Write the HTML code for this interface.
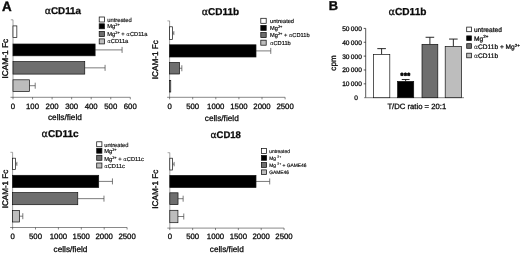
<!DOCTYPE html>
<html><head><meta charset="utf-8"><title>Figure</title>
<style>
html,body{margin:0;padding:0;background:#fff;}
svg{display:block;filter:blur(0.35px);}
.al{font-family:"DejaVu Sans","Liberation Sans",sans-serif;}
text{font-family:"Liberation Sans", Arial, sans-serif;fill:#0a0a0a;stroke:#0a0a0a;stroke-width:0.28;text-rendering:geometricPrecision;}
text.lg{stroke-width:0.16;}
text.lg .al{stroke-width:0;font-size:0.93em;}
</style></head>
<body>
<svg width="520" height="254" viewBox="0 0 520 254">
<rect x="0" y="0" width="520" height="254" fill="#ffffff"/>
<text x="2.0" y="10.7" font-size="13.4" text-anchor="start" font-weight="bold" style="stroke-width:0.4">A</text>
<line x1="13.00" y1="19.80" x2="13.00" y2="97.30" stroke="#555" stroke-width="0.55"/>
<line x1="10.80" y1="19.80" x2="13.00" y2="19.80" stroke="#555" stroke-width="0.5"/>
<line x1="10.50" y1="97.30" x2="130.30" y2="97.30" stroke="#484848" stroke-width="0.65"/>
<line x1="13.00" y1="97.30" x2="13.00" y2="99.30" stroke="#333" stroke-width="0.6"/>
<text x="13.00" y="109.3" font-size="7.8" text-anchor="middle" font-weight="normal" >0</text>
<line x1="32.55" y1="97.30" x2="32.55" y2="99.30" stroke="#333" stroke-width="0.6"/>
<text x="32.55" y="109.3" font-size="7.8" text-anchor="middle" font-weight="normal" >100</text>
<line x1="52.10" y1="97.30" x2="52.10" y2="99.30" stroke="#333" stroke-width="0.6"/>
<text x="52.10" y="109.3" font-size="7.8" text-anchor="middle" font-weight="normal" >200</text>
<line x1="71.65" y1="97.30" x2="71.65" y2="99.30" stroke="#333" stroke-width="0.6"/>
<text x="71.65" y="109.3" font-size="7.8" text-anchor="middle" font-weight="normal" >300</text>
<line x1="91.20" y1="97.30" x2="91.20" y2="99.30" stroke="#333" stroke-width="0.6"/>
<text x="91.20" y="109.3" font-size="7.8" text-anchor="middle" font-weight="normal" >400</text>
<line x1="110.75" y1="97.30" x2="110.75" y2="99.30" stroke="#333" stroke-width="0.6"/>
<text x="110.75" y="109.3" font-size="7.8" text-anchor="middle" font-weight="normal" >500</text>
<line x1="130.30" y1="97.30" x2="130.30" y2="99.30" stroke="#333" stroke-width="0.6"/>
<text x="130.30" y="109.3" font-size="7.8" text-anchor="middle" font-weight="normal" >600</text>
<rect x="13.00" y="25.90" width="3.85" height="11.60" fill="#ffffff" stroke="#111" stroke-width="0.7"/>
<line x1="95.11" y1="49.90" x2="122.09" y2="49.90" stroke="#444" stroke-width="0.7"/>
<line x1="122.09" y1="46.90" x2="122.09" y2="52.90" stroke="#444" stroke-width="0.7"/>
<rect x="13.00" y="44.00" width="82.11" height="11.80" fill="#000000" stroke="#111" stroke-width="0.7"/>
<line x1="84.75" y1="67.85" x2="105.08" y2="67.85" stroke="#444" stroke-width="0.7"/>
<line x1="105.08" y1="64.85" x2="105.08" y2="70.85" stroke="#444" stroke-width="0.7"/>
<rect x="13.00" y="61.60" width="71.75" height="12.50" fill="#6e6e6e" stroke="#111" stroke-width="0.7"/>
<line x1="29.42" y1="85.70" x2="35.21" y2="85.70" stroke="#444" stroke-width="0.7"/>
<line x1="35.21" y1="82.70" x2="35.21" y2="88.70" stroke="#444" stroke-width="0.7"/>
<rect x="13.00" y="79.80" width="16.42" height="11.80" fill="#bdbdbd" stroke="#111" stroke-width="0.7"/>
<text x="62.9" y="13.9" font-size="9.8" text-anchor="middle" font-weight="bold"><tspan class="al" font-weight="normal" font-size="9.51">&#945;</tspan>CD11a</text>
<text x="64.9" y="120.4" font-size="8.25" text-anchor="middle" font-weight="normal" >cells/field</text>
<text transform="translate(7.7,58.7) rotate(-90)" font-size="8.3" text-anchor="middle" style="stroke-width:0.36">ICAM-1 Fc</text>
<rect x="99.20" y="17.00" width="5.20" height="5.00" fill="#ffffff" stroke="#111" stroke-width="0.75"/>
<text x="107.2" y="21.59" font-size="5.8" text-anchor="start" font-weight="normal" class="lg">untreated</text>
<rect x="99.20" y="23.80" width="5.20" height="5.00" fill="#000000" stroke="#111" stroke-width="0.75"/>
<text x="107.2" y="28.39" font-size="5.8" text-anchor="start" font-weight="normal" class="lg">Mg<tspan font-size="3.94" dy="-1.91">2+</tspan><tspan dy="1.91">&#8203;</tspan></text>
<rect x="99.20" y="31.50" width="5.20" height="5.00" fill="#6e6e6e" stroke="#111" stroke-width="0.75"/>
<text x="107.2" y="36.09" font-size="5.8" text-anchor="start" font-weight="normal" class="lg">Mg<tspan font-size="3.94" dy="-1.91">2+</tspan><tspan dy="1.91">&#8203;</tspan> + <tspan class="al">&#945;</tspan>CD11a</text>
<rect x="99.20" y="38.90" width="5.20" height="5.00" fill="#bdbdbd" stroke="#111" stroke-width="0.75"/>
<text x="107.2" y="43.49" font-size="5.8" text-anchor="start" font-weight="normal" class="lg"><tspan class="al">&#945;</tspan>CD11a</text>
<line x1="169.60" y1="20.90" x2="169.60" y2="97.30" stroke="#555" stroke-width="0.55"/>
<line x1="167.40" y1="20.90" x2="169.60" y2="20.90" stroke="#555" stroke-width="0.5"/>
<line x1="167.10" y1="97.30" x2="285.10" y2="97.30" stroke="#484848" stroke-width="0.65"/>
<line x1="169.60" y1="97.30" x2="169.60" y2="99.30" stroke="#333" stroke-width="0.6"/>
<text x="169.60" y="109.3" font-size="7.8" text-anchor="middle" font-weight="normal" >0</text>
<line x1="192.70" y1="97.30" x2="192.70" y2="99.30" stroke="#333" stroke-width="0.6"/>
<text x="192.70" y="109.3" font-size="7.8" text-anchor="middle" font-weight="normal" >500</text>
<line x1="215.80" y1="97.30" x2="215.80" y2="99.30" stroke="#333" stroke-width="0.6"/>
<text x="215.80" y="109.3" font-size="7.8" text-anchor="middle" font-weight="normal" >1000</text>
<line x1="238.90" y1="97.30" x2="238.90" y2="99.30" stroke="#333" stroke-width="0.6"/>
<text x="238.90" y="109.3" font-size="7.8" text-anchor="middle" font-weight="normal" >1500</text>
<line x1="262.00" y1="97.30" x2="262.00" y2="99.30" stroke="#333" stroke-width="0.6"/>
<text x="262.00" y="109.3" font-size="7.8" text-anchor="middle" font-weight="normal" >2000</text>
<line x1="285.10" y1="97.30" x2="285.10" y2="99.30" stroke="#333" stroke-width="0.6"/>
<text x="285.10" y="109.3" font-size="7.8" text-anchor="middle" font-weight="normal" >2500</text>
<line x1="172.46" y1="33.10" x2="173.85" y2="33.10" stroke="#444" stroke-width="0.7"/>
<line x1="173.85" y1="31.10" x2="173.85" y2="35.10" stroke="#444" stroke-width="0.7"/>
<rect x="169.60" y="26.80" width="2.86" height="12.60" fill="#ffffff" stroke="#111" stroke-width="0.7"/>
<line x1="255.99" y1="50.90" x2="270.78" y2="50.90" stroke="#444" stroke-width="0.7"/>
<line x1="270.78" y1="47.90" x2="270.78" y2="53.90" stroke="#444" stroke-width="0.7"/>
<rect x="169.60" y="44.80" width="86.39" height="12.20" fill="#000000" stroke="#111" stroke-width="0.7"/>
<line x1="179.53" y1="68.25" x2="181.84" y2="68.25" stroke="#444" stroke-width="0.7"/>
<line x1="181.84" y1="65.25" x2="181.84" y2="71.25" stroke="#444" stroke-width="0.7"/>
<rect x="169.60" y="62.50" width="9.93" height="11.50" fill="#6e6e6e" stroke="#111" stroke-width="0.7"/>
<rect x="169.60" y="80.50" width="1.16" height="11.50" fill="#bdbdbd" stroke="#111" stroke-width="0.7"/>
<text x="220.4" y="14.7" font-size="9.95" text-anchor="middle" font-weight="bold"><tspan class="al" font-weight="normal" font-size="9.65">&#945;</tspan>CD11b</text>
<text x="221.8" y="120.6" font-size="8.25" text-anchor="middle" font-weight="normal" >cells/field</text>
<text transform="translate(157.8,59.7) rotate(-90)" font-size="8.2" text-anchor="middle" style="stroke-width:0.36">ICAM-1 Fc</text>
<rect x="260.80" y="18.30" width="5.40" height="5.00" fill="#ffffff" stroke="#111" stroke-width="0.75"/>
<text x="270" y="22.85" font-size="5.7" text-anchor="start" font-weight="normal" class="lg">untreated</text>
<rect x="260.80" y="25.40" width="5.40" height="5.00" fill="#000000" stroke="#111" stroke-width="0.75"/>
<text x="270" y="29.95" font-size="5.7" text-anchor="start" font-weight="normal" class="lg">Mg<tspan font-size="3.88" dy="-1.88">2+</tspan><tspan dy="1.88">&#8203;</tspan></text>
<rect x="260.80" y="32.60" width="5.40" height="5.00" fill="#6e6e6e" stroke="#111" stroke-width="0.75"/>
<text x="270" y="37.15" font-size="5.7" text-anchor="start" font-weight="normal" class="lg">Mg<tspan font-size="3.88" dy="-1.88">2+</tspan><tspan dy="1.88">&#8203;</tspan> + <tspan class="al">&#945;</tspan>CD11b</text>
<rect x="260.80" y="40.20" width="5.40" height="5.00" fill="#bdbdbd" stroke="#111" stroke-width="0.75"/>
<text x="270" y="44.75" font-size="5.7" text-anchor="start" font-weight="normal" class="lg"><tspan class="al">&#945;</tspan>CD11b</text>
<line x1="12.60" y1="152.30" x2="12.60" y2="227.50" stroke="#555" stroke-width="0.55"/>
<line x1="10.40" y1="152.30" x2="12.60" y2="152.30" stroke="#555" stroke-width="0.5"/>
<line x1="10.10" y1="227.50" x2="127.10" y2="227.50" stroke="#484848" stroke-width="0.65"/>
<line x1="12.60" y1="227.50" x2="12.60" y2="229.50" stroke="#333" stroke-width="0.6"/>
<text x="12.60" y="239.2" font-size="7.8" text-anchor="middle" font-weight="normal" >0</text>
<line x1="35.50" y1="227.50" x2="35.50" y2="229.50" stroke="#333" stroke-width="0.6"/>
<text x="35.50" y="239.2" font-size="7.8" text-anchor="middle" font-weight="normal" >500</text>
<line x1="58.40" y1="227.50" x2="58.40" y2="229.50" stroke="#333" stroke-width="0.6"/>
<text x="58.40" y="239.2" font-size="7.8" text-anchor="middle" font-weight="normal" >1000</text>
<line x1="81.30" y1="227.50" x2="81.30" y2="229.50" stroke="#333" stroke-width="0.6"/>
<text x="81.30" y="239.2" font-size="7.8" text-anchor="middle" font-weight="normal" >1500</text>
<line x1="104.20" y1="227.50" x2="104.20" y2="229.50" stroke="#333" stroke-width="0.6"/>
<text x="104.20" y="239.2" font-size="7.8" text-anchor="middle" font-weight="normal" >2000</text>
<line x1="127.10" y1="227.50" x2="127.10" y2="229.50" stroke="#333" stroke-width="0.6"/>
<text x="127.10" y="239.2" font-size="7.8" text-anchor="middle" font-weight="normal" >2500</text>
<line x1="15.58" y1="163.85" x2="16.86" y2="163.85" stroke="#444" stroke-width="0.7"/>
<line x1="16.86" y1="161.85" x2="16.86" y2="165.85" stroke="#444" stroke-width="0.7"/>
<rect x="12.60" y="158.20" width="2.98" height="11.30" fill="#ffffff" stroke="#111" stroke-width="0.7"/>
<line x1="98.70" y1="181.40" x2="112.44" y2="181.40" stroke="#444" stroke-width="0.7"/>
<line x1="112.44" y1="178.40" x2="112.44" y2="184.40" stroke="#444" stroke-width="0.7"/>
<rect x="12.60" y="175.30" width="86.10" height="12.20" fill="#000000" stroke="#111" stroke-width="0.7"/>
<line x1="77.77" y1="198.65" x2="103.97" y2="198.65" stroke="#444" stroke-width="0.7"/>
<line x1="103.97" y1="195.65" x2="103.97" y2="201.65" stroke="#444" stroke-width="0.7"/>
<rect x="12.60" y="192.60" width="65.17" height="12.10" fill="#6e6e6e" stroke="#111" stroke-width="0.7"/>
<line x1="19.61" y1="216.20" x2="22.81" y2="216.20" stroke="#444" stroke-width="0.7"/>
<line x1="22.81" y1="213.20" x2="22.81" y2="219.20" stroke="#444" stroke-width="0.7"/>
<rect x="12.60" y="210.40" width="7.01" height="11.60" fill="#bdbdbd" stroke="#111" stroke-width="0.7"/>
<text x="60.1" y="137.1" font-size="10" text-anchor="middle" font-weight="bold"><tspan class="al" font-weight="normal" font-size="9.70">&#945;</tspan>CD11c</text>
<text x="70.5" y="251.7" font-size="8.25" text-anchor="middle" font-weight="normal" >cells/field</text>
<text transform="translate(7.9,189) rotate(-90)" font-size="8.1" text-anchor="middle" style="stroke-width:0.36">ICAM-1 Fc</text>
<rect x="96.70" y="141.80" width="5.20" height="4.90" fill="#ffffff" stroke="#111" stroke-width="0.75"/>
<text x="104.2" y="146.52" font-size="5.75" text-anchor="start" font-weight="normal" class="lg">untreated</text>
<rect x="96.70" y="148.30" width="5.20" height="4.90" fill="#000000" stroke="#111" stroke-width="0.75"/>
<text x="104.2" y="152.82" font-size="5.75" text-anchor="start" font-weight="normal" class="lg">Mg<tspan font-size="3.91" dy="-1.90">2+</tspan><tspan dy="1.90">&#8203;</tspan></text>
<rect x="96.70" y="155.30" width="5.20" height="5.00" fill="#6e6e6e" stroke="#111" stroke-width="0.75"/>
<text x="104.2" y="160.67" font-size="5.75" text-anchor="start" font-weight="normal" class="lg">Mg<tspan font-size="3.91" dy="-1.90">2+</tspan><tspan dy="1.90">&#8203;</tspan> + <tspan class="al">&#945;</tspan>CD11c</text>
<rect x="96.70" y="163.00" width="5.20" height="5.00" fill="#bdbdbd" stroke="#111" stroke-width="0.75"/>
<text x="104.2" y="168.37" font-size="5.75" text-anchor="start" font-weight="normal" class="lg"><tspan class="al">&#945;</tspan>CD11c</text>
<line x1="169.80" y1="152.70" x2="169.80" y2="228.10" stroke="#555" stroke-width="0.55"/>
<line x1="167.60" y1="152.70" x2="169.80" y2="152.70" stroke="#555" stroke-width="0.5"/>
<line x1="167.30" y1="228.10" x2="284.05" y2="228.10" stroke="#484848" stroke-width="0.65"/>
<line x1="169.80" y1="228.10" x2="169.80" y2="230.10" stroke="#333" stroke-width="0.6"/>
<text x="169.80" y="239.2" font-size="7.8" text-anchor="middle" font-weight="normal" >0</text>
<line x1="192.65" y1="228.10" x2="192.65" y2="230.10" stroke="#333" stroke-width="0.6"/>
<text x="192.65" y="239.2" font-size="7.8" text-anchor="middle" font-weight="normal" >500</text>
<line x1="215.50" y1="228.10" x2="215.50" y2="230.10" stroke="#333" stroke-width="0.6"/>
<text x="215.50" y="239.2" font-size="7.8" text-anchor="middle" font-weight="normal" >1000</text>
<line x1="238.35" y1="228.10" x2="238.35" y2="230.10" stroke="#333" stroke-width="0.6"/>
<text x="238.35" y="239.2" font-size="7.8" text-anchor="middle" font-weight="normal" >1500</text>
<line x1="261.20" y1="228.10" x2="261.20" y2="230.10" stroke="#333" stroke-width="0.6"/>
<text x="261.20" y="239.2" font-size="7.8" text-anchor="middle" font-weight="normal" >2000</text>
<line x1="284.05" y1="228.10" x2="284.05" y2="230.10" stroke="#333" stroke-width="0.6"/>
<text x="284.05" y="239.2" font-size="7.8" text-anchor="middle" font-weight="normal" >2500</text>
<line x1="172.54" y1="164.10" x2="174.14" y2="164.10" stroke="#444" stroke-width="0.7"/>
<line x1="174.14" y1="161.90" x2="174.14" y2="166.30" stroke="#444" stroke-width="0.7"/>
<rect x="169.80" y="158.20" width="2.74" height="11.80" fill="#ffffff" stroke="#111" stroke-width="0.7"/>
<line x1="255.99" y1="181.45" x2="269.70" y2="181.45" stroke="#444" stroke-width="0.7"/>
<line x1="269.70" y1="178.45" x2="269.70" y2="184.45" stroke="#444" stroke-width="0.7"/>
<rect x="169.80" y="175.40" width="86.19" height="12.10" fill="#000000" stroke="#111" stroke-width="0.7"/>
<line x1="178.03" y1="198.70" x2="183.14" y2="198.70" stroke="#444" stroke-width="0.7"/>
<line x1="183.14" y1="195.70" x2="183.14" y2="201.70" stroke="#444" stroke-width="0.7"/>
<rect x="169.80" y="192.80" width="8.23" height="11.80" fill="#6e6e6e" stroke="#111" stroke-width="0.7"/>
<line x1="177.93" y1="216.50" x2="183.78" y2="216.50" stroke="#444" stroke-width="0.7"/>
<line x1="183.78" y1="213.50" x2="183.78" y2="219.50" stroke="#444" stroke-width="0.7"/>
<rect x="169.80" y="210.30" width="8.13" height="12.40" fill="#bdbdbd" stroke="#111" stroke-width="0.7"/>
<text x="225.7" y="137.6" font-size="9.5" text-anchor="middle" font-weight="bold"><tspan class="al" font-weight="normal" font-size="9.21">&#945;</tspan>CD18</text>
<text x="226.8" y="251.5" font-size="8.25" text-anchor="middle" font-weight="normal" >cells/field</text>
<text transform="translate(158.2,189.2) rotate(-90)" font-size="8.2" text-anchor="middle" style="stroke-width:0.36">ICAM-1 Fc</text>
<rect x="261.40" y="148.60" width="5.20" height="4.80" fill="#ffffff" stroke="#111" stroke-width="0.75"/>
<text x="269.2" y="152.76" font-size="4.9" text-anchor="start" font-weight="normal" class="lg">untreated</text>
<rect x="261.40" y="155.50" width="5.20" height="4.80" fill="#000000" stroke="#111" stroke-width="0.75"/>
<text x="269.2" y="159.66" font-size="4.9" text-anchor="start" font-weight="normal" class="lg">Mg <tspan font-size="3.33" dy="-1.62">2+</tspan><tspan dy="1.62">&#8203;</tspan></text>
<rect x="261.40" y="162.60" width="5.20" height="4.80" fill="#6e6e6e" stroke="#111" stroke-width="0.75"/>
<text x="269.2" y="166.76" font-size="4.9" text-anchor="start" font-weight="normal" class="lg">Mg <tspan font-size="3.33" dy="-1.62">2+</tspan><tspan dy="1.62">&#8203;</tspan> + GAME46</text>
<rect x="261.40" y="169.90" width="5.20" height="4.60" fill="#bdbdbd" stroke="#111" stroke-width="0.75"/>
<text x="269.2" y="173.96" font-size="4.9" text-anchor="start" font-weight="normal" class="lg">GAME46</text>
<text x="328.7" y="10.2" font-size="12.8" text-anchor="start" font-weight="bold" style="stroke-width:0.4">B</text>
<text x="407.5" y="14.7" font-size="10.1" text-anchor="middle" font-weight="bold"><tspan class="al" font-weight="normal" font-size="9.80">&#945;</tspan>CD11b</text>
<line x1="365.70" y1="28.40" x2="365.70" y2="97.70" stroke="#111" stroke-width="0.7"/>
<line x1="364.10" y1="97.70" x2="464.00" y2="97.70" stroke="#444" stroke-width="0.65"/>
<text x="357.8" y="100.20" font-size="6.6" text-anchor="end" font-weight="normal" >0</text>
<line x1="363.70" y1="83.84" x2="365.70" y2="83.84" stroke="#111" stroke-width="0.7"/>
<text x="361.8" y="86.34" font-size="6.6" text-anchor="end" font-weight="normal" >10&#8201;000</text>
<line x1="363.70" y1="69.98" x2="365.70" y2="69.98" stroke="#111" stroke-width="0.7"/>
<text x="361.8" y="72.48" font-size="6.6" text-anchor="end" font-weight="normal" >20&#8201;000</text>
<line x1="363.70" y1="56.12" x2="365.70" y2="56.12" stroke="#111" stroke-width="0.7"/>
<text x="361.8" y="58.62" font-size="6.6" text-anchor="end" font-weight="normal" >30&#8201;000</text>
<line x1="363.70" y1="42.26" x2="365.70" y2="42.26" stroke="#111" stroke-width="0.7"/>
<text x="361.8" y="44.76" font-size="6.6" text-anchor="end" font-weight="normal" >40&#8201;000</text>
<line x1="363.70" y1="28.40" x2="365.70" y2="28.40" stroke="#111" stroke-width="0.7"/>
<text x="361.8" y="30.90" font-size="6.6" text-anchor="end" font-weight="normal" >50&#8201;000</text>
<line x1="381.60" y1="54.46" x2="381.60" y2="48.64" stroke="#111" stroke-width="0.9"/>
<line x1="377.30" y1="48.64" x2="385.90" y2="48.64" stroke="#111" stroke-width="0.9"/>
<rect x="373.40" y="54.46" width="16.40" height="43.24" fill="#ffffff" stroke="#111" stroke-width="0.7"/>
<line x1="405.65" y1="81.41" x2="405.65" y2="79.54" stroke="#111" stroke-width="0.9"/>
<line x1="401.75" y1="79.54" x2="409.55" y2="79.54" stroke="#111" stroke-width="0.9"/>
<rect x="397.60" y="81.41" width="16.10" height="16.29" fill="#000000" stroke="#111" stroke-width="0.7"/>
<line x1="429.90" y1="44.34" x2="429.90" y2="37.27" stroke="#111" stroke-width="0.9"/>
<line x1="425.60" y1="37.27" x2="434.20" y2="37.27" stroke="#111" stroke-width="0.9"/>
<rect x="422.00" y="44.34" width="15.80" height="53.36" fill="#6e6e6e" stroke="#111" stroke-width="0.7"/>
<line x1="453.35" y1="46.42" x2="453.35" y2="39.07" stroke="#111" stroke-width="0.9"/>
<line x1="449.05" y1="39.07" x2="457.65" y2="39.07" stroke="#111" stroke-width="0.9"/>
<rect x="445.20" y="46.42" width="16.30" height="51.28" fill="#bdbdbd" stroke="#111" stroke-width="0.7"/>
<text x="405.6" y="77.7" font-size="7.4" text-anchor="middle" font-weight="bold" letter-spacing="0.55" style="stroke-width:0.7">***</text>
<text transform="translate(335.6,63) rotate(-90)" font-size="8.1" text-anchor="middle">cpm</text>
<text x="416.8" y="109.2" font-size="7.7" text-anchor="middle" font-weight="normal" >T/DC ratio = 20:1</text>
<rect x="466.70" y="27.10" width="4.70" height="4.60" fill="#ffffff" stroke="#111" stroke-width="0.75"/>
<text x="474" y="31.68" font-size="6.6" text-anchor="start" font-weight="normal" class="lg" style="stroke-width:0.24">untreated</text>
<rect x="466.70" y="35.90" width="4.70" height="4.60" fill="#000000" stroke="#111" stroke-width="0.75"/>
<text x="474" y="40.58" font-size="6.6" text-anchor="start" font-weight="normal" class="lg" style="stroke-width:0.24">Mg<tspan font-size="4.49" dy="-2.18">2+</tspan><tspan dy="2.18">&#8203;</tspan></text>
<rect x="466.70" y="43.70" width="4.70" height="4.60" fill="#6e6e6e" stroke="#111" stroke-width="0.75"/>
<text x="474" y="49.08" font-size="6.6" text-anchor="start" font-weight="normal" class="lg" style="stroke-width:0.24"><tspan class="al">&#945;</tspan>CD11b + Mg<tspan font-size="4.49" dy="-2.18">2+</tspan><tspan dy="2.18">&#8203;</tspan></text>
<rect x="466.70" y="53.20" width="4.70" height="4.60" fill="#bdbdbd" stroke="#111" stroke-width="0.75"/>
<text x="474" y="58.18" font-size="6.6" text-anchor="start" font-weight="normal" class="lg" style="stroke-width:0.24"><tspan class="al">&#945;</tspan>CD11b</text>
</svg>
</body></html>
